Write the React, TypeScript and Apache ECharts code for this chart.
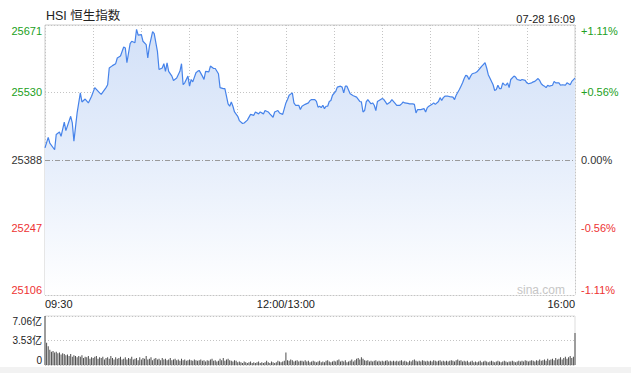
import React, { useEffect, useRef } from 'react';
import * as echarts from 'echarts';

// minute offsets from 09:30 (lunch break removed; 150 = 12:00/13:00, 330 = 16:00)
const minutes = [
  0, 2, 3, 6, 7, 9, 10, 12, 13, 16, 17, 18, 20, 22, 23, 25, 27, 29, 31, 34,
  35, 38, 39, 40, 42, 44, 45, 47, 49, 50, 51, 53, 54, 56, 57, 58, 60, 61, 63, 64,
  65, 67, 68, 70, 71, 73, 74, 75, 76, 77, 79, 80, 82, 84, 85, 86, 87, 89, 90, 91,
  92, 94, 95, 96, 98, 99, 100, 102, 103, 105, 106, 108, 109, 111, 112, 114, 115, 116, 117, 118,
  120, 121, 123, 124, 126, 128, 130, 131, 133, 134, 136, 137, 139, 140, 142, 143, 145, 146, 148, 150,
  151, 152, 154, 155, 156, 158, 159, 160, 162, 164, 165, 166, 168, 169, 170, 171, 172, 173, 174, 175,
  176, 177, 178, 179, 181, 182, 184, 185, 186, 187, 188, 190, 192, 194, 196, 197, 198, 199, 200, 201,
  203, 204, 205, 206, 207, 209, 210, 211, 212, 213, 215, 216, 218, 219, 221, 222, 223, 224, 226, 227,
  229, 230, 231, 232, 234, 236, 237, 238, 239, 240, 241, 242, 243, 245, 246, 247, 248, 249, 251, 252,
  254, 255, 256, 258, 259, 260, 261, 262, 263, 264, 265, 266, 268, 269, 271, 272, 274, 275, 276, 277,
  279, 280, 281, 282, 283, 284, 285, 286, 287, 288, 289, 290, 292, 293, 294, 296, 297, 299, 300, 301,
  303, 304, 305, 307, 308, 309, 310, 311, 312, 313, 314, 316, 317, 318, 320, 321, 322, 324, 325, 327,
  328, 330,
];

const prices = [
  25414, 25436, 25424, 25410, 25442, 25447, 25438, 25468, 25450, 25480, 25466, 25428, 25487, 25529, 25510, 25516, 25508, 25522, 25540, 25529,
  25526, 25540, 25546, 25581, 25586, 25590, 25602, 25606, 25625, 25623, 25592, 25632, 25637, 25634, 25662, 25650, 25651, 25637, 25630, 25602,
  25627, 25657, 25653, 25616, 25578, 25581, 25590, 25574, 25592, 25574, 25564, 25555, 25560, 25574, 25590, 25546, 25550, 25564, 25543, 25557,
  25552, 25571, 25574, 25576, 25564, 25557, 25574, 25573, 25585, 25580, 25580, 25569, 25540, 25538, 25538, 25506, 25501, 25510, 25501, 25489,
  25480, 25471, 25465, 25466, 25472, 25484, 25482, 25489, 25485, 25489, 25485, 25492, 25489, 25485, 25478, 25489, 25492, 25487, 25484, 25508,
  25515, 25524, 25529, 25508, 25503, 25503, 25494, 25501, 25505, 25508, 25513, 25515, 25515, 25511, 25499, 25501, 25498, 25503, 25496, 25501,
  25501, 25511, 25513, 25524, 25532, 25541, 25543, 25541, 25529, 25543, 25543, 25527, 25523, 25520, 25511, 25510, 25489, 25492, 25510, 25515,
  25506, 25508, 25503, 25492, 25511, 25515, 25517, 25515, 25510, 25505, 25510, 25515, 25507, 25503, 25503, 25506, 25510, 25508, 25507, 25506,
  25506, 25505, 25487, 25494, 25494, 25496, 25489, 25498, 25501, 25503, 25505, 25508, 25505, 25511, 25519, 25513, 25519, 25522, 25522, 25521,
  25520, 25515, 25524, 25536, 25543, 25550, 25559, 25566, 25564, 25557, 25564, 25569, 25571, 25573, 25581, 25585, 25592, 25581, 25567, 25560,
  25546, 25534, 25536, 25545, 25538, 25538, 25550, 25546, 25545, 25550, 25540, 25557, 25564, 25562, 25557, 25555, 25557, 25555, 25550, 25548,
  25550, 25552, 25553, 25559, 25555, 25548, 25545, 25543, 25540, 25545, 25543, 25545, 25553, 25550, 25550, 25545, 25546, 25545, 25550, 25546,
  25553, 25560,
];

// volume per minute (亿), minute 0..330
const volumes = [
  7.06, 3.2, 2.7, 2.2, 1.9, 2.0, 1.8, 1.9, 1.7, 1.8,
  1.5, 1.7, 1.6, 1.4, 1.5, 1.3, 1.6, 1.2, 1.4, 1.3,
  1.1, 1.3, 1.2, 1.4, 1.0, 1.2, 1.1, 1.3, 0.9, 1.1,
  1.0, 1.2, 1.3, 0.9, 1.1, 1.0, 1.2, 0.8, 1.0, 1.1,
  0.9, 1.3, 1.0, 0.8, 1.1, 0.9, 1.0, 1.2, 0.8, 0.9,
  1.1, 0.8, 1.0, 0.9, 1.2, 0.8, 0.9, 1.0, 0.7, 1.1,
  0.8, 1.0, 0.9, 1.3, 0.8, 0.9, 1.1, 0.7, 0.9, 1.0,
  0.8, 0.9, 0.7, 1.0, 0.8, 0.9, 0.7, 0.8, 1.0, 0.7,
  0.8, 0.9, 0.7, 0.8, 0.6, 0.9, 0.7, 0.8, 0.6, 0.7,
  0.8, 0.7, 0.6, 0.8, 0.7, 0.6, 0.7, 0.8, 0.6, 0.7,
  0.5, 0.7, 0.6, 0.8, 0.9, 0.6, 0.7, 0.5, 0.6, 0.9,
  0.7, 1.0, 0.6, 0.8, 0.9, 0.7, 0.6, 0.5, 0.7, 0.6,
  0.4, 0.5, 0.4, 0.3, 0.5, 0.4, 0.3, 0.4, 0.5, 0.3,
  0.4, 0.3, 0.4, 0.5, 0.3, 0.4, 0.3, 0.4, 0.6, 0.4,
  0.3, 0.5, 0.4, 0.3, 0.4, 0.6, 0.5, 0.4, 0.5, 0.6,
  1.8, 0.7, 0.6, 0.8, 0.7, 0.5, 0.6, 0.7, 0.5, 0.6,
  0.6, 0.5, 0.7, 0.5, 0.6, 0.4, 0.5, 0.6, 0.5, 0.4,
  0.5, 0.6, 0.4, 0.5, 0.4, 0.6, 0.7, 0.5, 0.4, 0.5,
  0.6, 0.5, 0.7, 0.8, 0.5, 0.6, 0.5, 0.7, 0.4, 0.5,
  0.6, 0.8, 0.5, 0.7, 0.9, 1.0, 0.8, 1.1, 0.9, 0.7,
  0.6, 0.7, 0.5, 0.6, 0.5, 0.6, 0.7, 0.5, 0.6, 0.5,
  0.6, 0.5, 0.6, 0.7, 0.5, 0.6, 0.5, 0.6, 0.5, 0.6,
  0.5, 0.6, 0.7, 0.5, 0.6, 0.5, 0.4, 0.6, 0.5, 0.7,
  0.8, 0.6, 0.5, 0.6, 0.5, 0.7, 0.6, 0.5, 0.6, 0.5,
  0.6, 0.5, 0.7, 0.6, 0.5, 0.6, 0.7, 0.5, 0.6, 0.5,
  0.6, 0.5, 0.6, 0.7, 0.6, 0.5, 0.7, 0.8, 0.6, 0.7,
  0.5, 0.6, 0.5, 0.6, 0.4, 0.5, 0.6, 0.4, 0.5, 0.4,
  0.5, 0.6, 0.4, 0.5, 0.6, 0.5, 0.4, 0.5, 0.6, 0.5,
  0.4, 0.5, 0.6, 0.5, 0.4, 0.5, 0.6, 0.5, 0.4, 0.5,
  0.5, 0.6, 0.5, 0.4, 0.5, 0.6, 0.5, 0.6, 0.5, 0.7,
  0.6, 0.5, 0.6, 0.7, 0.6, 0.5, 0.7, 0.6, 0.8, 0.6,
  0.7, 0.8, 0.6, 0.9, 0.7, 0.8, 0.9, 0.7, 1.0, 0.8,
  0.9, 1.1, 0.8, 1.0, 1.2, 0.9, 1.1, 1.3, 1.0, 1.2,
  4.6,
];

const prevClose = 25388;
const priceTicks = [25106, 25247, 25388, 25530, 25671];
const pctTicks = ['-1.11%', '-0.56%', '0.00%', '+0.56%', '+1.11%'];
const volTicks = [0, 3.53, 7.06];
const volTickLabels = ['0', '3.53亿', '7.06亿'];
const timeTicks = [0, 150, 330];
const timeLabels = ['09:30', '12:00/13:00', '16:00'];
const titleText = 'HSI 恒生指数';
const dateText = '07-28 16:09';

const UP = '#22a022';
const DOWN = '#ee3333';
const FLAT = '#333333';
const FONT = 'Arial, "Liberation Sans", "Noto Sans CJK SC", sans-serif';

const richStyles = {
  up: { color: UP, fontSize: 11, fontFamily: FONT },
  dn: { color: DOWN, fontSize: 11, fontFamily: FONT },
  eq: { color: FLAT, fontSize: 11, fontFamily: FONT },
};

function nearestIdx(arr: number[], v: number) {
  let best = 0;
  for (let i = 1; i < arr.length; i++) {
    if (Math.abs(arr[i] - v) < Math.abs(arr[best] - v)) best = i;
  }
  return best;
}
function styleKey(i: number) {
  return i > 2 ? 'up' : i < 2 ? 'dn' : 'eq';
}

export default function App() {
  const ref = useRef<HTMLDivElement>(null);
  useEffect(() => {
    if (!ref.current) return;
    const chart = echarts.init(ref.current, undefined, { renderer: 'svg' });
    const lineData = minutes.map((m, i) => [m, prices[i]]);
    const volData = volumes.map((v, i) => [i, v]);
    const dotted = { type: [1, 2] as any, color: '#c4c4c4', width: 1 };

    chart.setOption({
      animation: false,
      textStyle: { fontFamily: FONT },
      graphic: [
        {
          type: 'rect',
          silent: true,
          shape: { x: 0, y: 367, width: 631, height: 6 },
          style: { fill: '#f2f2f2' },
        },
        {
          type: 'text',
          left: 46,
          top: 10,
          style: { text: titleText, fontSize: 12.5, fill: '#222', fontFamily: FONT },
        },
        {
          type: 'text',
          right: 56,
          top: 13,
          style: { text: dateText, fontSize: 11, fill: '#222', fontFamily: FONT },
        },
        {
          type: 'text',
          right: 66,
          top: 284,
          z: 100,
          zlevel: 0,
          silent: true,
          style: { text: 'sina.com', fontSize: 12, fill: '#c6c6c6', fontFamily: FONT },
        },
      ],
      grid: [
        { left: 45, right: 56, top: 25, height: 270, show: true, borderColor: '#cccccc', borderWidth: 1 },
        { left: 45, right: 56, top: 316, height: 49, show: true, borderColor: '#dddddd', borderWidth: 1 },
      ],
      xAxis: [
        {
          type: 'value',
          gridIndex: 0,
          min: 0,
          max: 330,
          interval: 30,
          axisLine: { show: false },
          axisTick: { show: false },
          splitLine: { show: true, lineStyle: dotted },
          axisLabel: {
            show: true,
            fontSize: 11,
            color: '#222',
            margin: 3,
            showMinLabel: true,
            showMaxLabel: true,
            alignMinLabel: 'left',
            alignMaxLabel: 'right',
            formatter: (v: number) => {
              const i = timeTicks.indexOf(Math.round(v));
              return i >= 0 ? timeLabels[i] : '';
            },
          },
        },
        {
          type: 'value',
          gridIndex: 1,
          min: 0,
          max: 330,
          interval: 30,
          axisLine: { show: false },
          axisTick: { show: false },
          splitLine: { show: false },
          axisLabel: { show: false },
        },
      ],
      yAxis: [
        {
          type: 'value',
          gridIndex: 0,
          position: 'left',
          min: priceTicks[0],
          max: priceTicks[priceTicks.length - 1],
          axisLine: { show: false },
          axisTick: { show: false, customValues: priceTicks },
          splitLine: { show: true, lineStyle: dotted },
          axisLabel: {
            customValues: priceTicks,
            margin: 3,
            showMinLabel: true,
            showMaxLabel: true,
            verticalAlignMinLabel: 'bottom',
            verticalAlignMaxLabel: 'top',
            formatter: (v: number) => {
              const i = nearestIdx(priceTicks, v);
              return `{${styleKey(i)}|${priceTicks[i]}}`;
            },
            rich: richStyles,
          },
        },
        {
          type: 'value',
          gridIndex: 0,
          position: 'right',
          min: priceTicks[0],
          max: priceTicks[priceTicks.length - 1],
          axisLine: { show: false },
          axisTick: { show: false, customValues: priceTicks },
          splitLine: { show: false },
          axisLabel: {
            customValues: priceTicks,
            margin: 6,
            showMinLabel: true,
            showMaxLabel: true,
            verticalAlignMinLabel: 'bottom',
            verticalAlignMaxLabel: 'top',
            formatter: (v: number) => {
              const i = nearestIdx(priceTicks, v);
              return `{${styleKey(i)}|${pctTicks[i]}}`;
            },
            rich: richStyles,
          },
        },
        {
          type: 'value',
          gridIndex: 1,
          position: 'left',
          min: 0,
          max: volTicks[2],
          interval: volTicks[1],
          axisLine: { show: false },
          axisTick: { show: false },
          splitLine: { show: true, lineStyle: dotted },
          axisLabel: {
            fontSize: 10,
            color: '#222',
            margin: 3,
            showMinLabel: true,
            showMaxLabel: true,
            verticalAlignMinLabel: 'bottom',
            verticalAlignMaxLabel: 'top',
            formatter: (v: number) => volTickLabels[nearestIdx(volTicks, v)],
          },
        },
      ],
      series: [
        {
          type: 'line',
          xAxisIndex: 0,
          yAxisIndex: 0,
          data: lineData,
          symbol: 'none',
          lineStyle: { color: '#4683ea', width: 1.2 },
          itemStyle: { color: '#4683ea' },
          areaStyle: {
            origin: 'start',
            opacity: 1,
            color: new echarts.graphic.LinearGradient(0, 0, 0, 1, [
              { offset: 0, color: '#d3e1f8' },
              { offset: 0.5, color: '#e6eefb' },
              { offset: 1, color: '#ffffff' },
            ]),
          },
          markLine: {
            silent: true,
            symbol: 'none',
            label: { show: false },
            lineStyle: { type: [5, 2, 1, 2] as any, color: '#9a9a9a', width: 1 },
            data: [{ yAxis: prevClose }],
          },
        },
        {
          type: 'bar',
          xAxisIndex: 1,
          yAxisIndex: 2,
          data: volData,
          barWidth: 1,
          itemStyle: { color: '#4d4d4d' },
        },
      ],
    });
    return () => chart.dispose();
  }, []);
  return (
    <div
      ref={ref}
      style={{ position: 'fixed', left: 0, top: 0, width: 631, height: 373, background: '#fff' }}
    />
  );
}
